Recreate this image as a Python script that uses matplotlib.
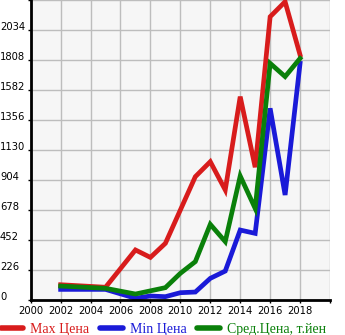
import matplotlib
matplotlib.use("Agg")
import matplotlib.pyplot as plt

# values
max_years = [2002, 2005, 2007, 2008, 2009, 2011, 2012, 2013, 2014, 2015, 2016, 2017, 2018]
max_price = [115, 96, 377, 321, 427, 929, 1042, 829, 1532, 1000, 2134, 2247, 1846]

min_years = [2002, 2005, 2007, 2008, 2009, 2010, 2011, 2012, 2013, 2014, 2015, 2016, 2017, 2018]
min_price = [80, 80, 13, 30, 25, 55, 60, 163, 218, 527, 502, 1444, 791, 1783]

avg_years = [2002, 2005, 2007, 2009, 2010, 2011, 2012, 2013, 2014, 2015, 2016, 2017, 2018]
avg_price = [105, 88, 45, 93, 201, 289, 570, 440, 934, 690, 1783, 1683, 1820]

yticks = [0, 226, 452, 678, 904, 1130, 1356, 1582, 1808, 2034]
xticks = list(range(2000, 2020, 2))
labels = ["Max Цена", "Min Цена", "Сред.Цена, т.йен"]

fig = plt.figure(figsize=(3.45, 3.35), dpi=100)
ax = fig.add_axes([30.7 / 345, 35 / 335, 299.3 / 345, 300 / 335])
ax.set_facecolor("#f6f6f6")

lw = 3.4
ax.plot(max_years, max_price, color="#d81c1c", lw=lw, solid_joinstyle="miter", label=labels[0])
ax.plot(min_years, min_price, color="#1a1ad8", lw=lw, solid_joinstyle="miter", label=labels[1])
ax.plot(avg_years, avg_price, color="#0a800a", lw=lw, solid_joinstyle="miter", label=labels[2])

ax.set_xlim(2000, 2020)
ax.set_ylim(0, 2260)
ax.set_xticks(xticks + [2020])
ax.set_xticklabels([str(x) for x in xticks] + [""], fontsize=7.2, family="DejaVu Sans")
ax.set_yticks(yticks + [2260])
ax.set_yticklabels([str(y) for y in yticks] + [""], fontsize=7.2, family="DejaVu Sans",
                   ha="left", va="baseline")
ax.tick_params(axis="y", length=2.2, width=1, pad=19.9)
ax.tick_params(axis="x", length=2.2, width=1, pad=2)
ax.grid(True, color="#bdbdbd", lw=1)
ax.set_axisbelow(True)

for s in ["top", "right"]:
    ax.spines[s].set_visible(False)
for s in ["left", "bottom"]:
    ax.spines[s].set_linewidth(2)
    ax.spines[s].set_color("black")

leg = fig.legend(loc="lower left", bbox_to_anchor=(-0.005, -0.012), ncol=3, frameon=False,
                 handlelength=1.6, handletextpad=0.5, columnspacing=0.8,
                 borderaxespad=0, borderpad=0.2,
                 prop={"family": "Liberation Serif", "size": 10})
for h in leg.get_lines():
    h.set_linewidth(4)
    h.set_solid_capstyle("round")
for t, h in zip(leg.get_texts(), leg.get_lines()):
    t.set_color(h.get_color())

fig.savefig("out.png", dpi=100)
